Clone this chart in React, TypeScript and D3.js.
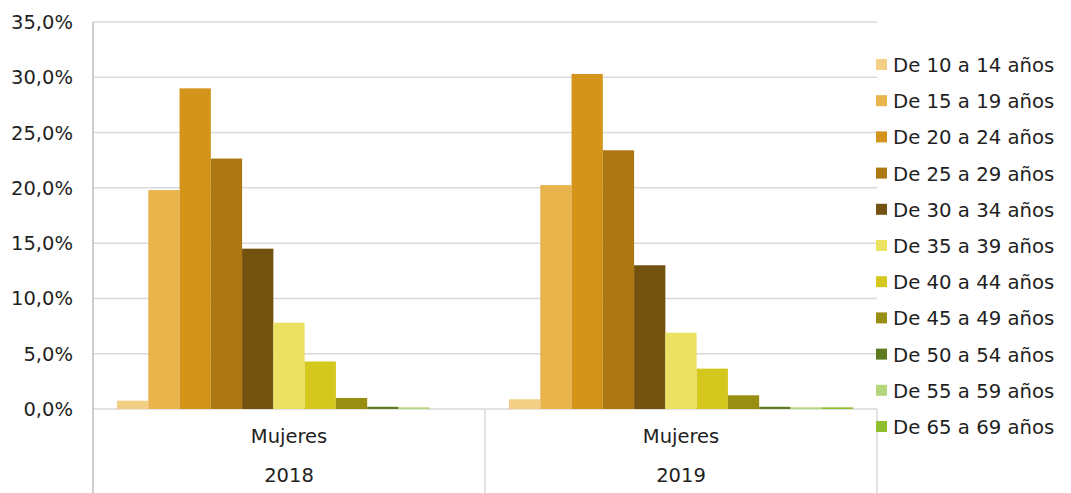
import { useEffect, useRef } from "react"
import * as d3 from "d3"

const groups = ["2018", "2019"]
const groupLabel = "Mujeres"

const ageBands = [
  "De 10 a 14 años",
  "De 15 a 19 años",
  "De 20 a 24 años",
  "De 25 a 29 años",
  "De 30 a 34 años",
  "De 35 a 39 años",
  "De 40 a 44 años",
  "De 45 a 49 años",
  "De 50 a 54 años",
  "De 55 a 59 años",
  "De 65 a 69 años",
]

// percentages, one per age band
const values2018 = [0.75, 19.8, 29.0, 22.65, 14.5, 7.8, 4.3, 1.0, 0.2, 0.15, 0]
const values2019 = [0.88, 20.25, 30.3, 23.4, 13.0, 6.9, 3.65, 1.24, 0.2, 0.15, 0.15]

const colors = [
  "#F2CF85",
  "#E9B44C",
  "#D4941A",
  "#AD7714",
  "#73520F",
  "#EAE260",
  "#D4C81E",
  "#988E14",
  "#5E7A1F",
  "#B5D67A",
  "#8FBF2E",
]

const yTicks = [0, 5, 10, 15, 20, 25, 30, 35]

export default function App() {
  const svgRef = useRef<SVGSVGElement>(null)

  useEffect(() => {
    document.body.style.margin = "0"
    if (!svgRef.current) return
    const svg = d3.select(svgRef.current)
    svg.selectAll("*").remove()

    const width = 1071
    const height = 493
    const margin = { top: 22, left: 93, right: 194, bottom: 84 }
    const innerWidth = width - margin.left - margin.right
    const innerHeight = height - margin.top - margin.bottom
    const font = "'DejaVu Sans', sans-serif"
    const textColor = "#1f1f1f"
    const grid = "#d9d9d9"

    const g = svg.append("g").attr("transform", `translate(${margin.left},${margin.top})`)

    const x0 = d3.scaleBand().domain(groups).range([0, innerWidth]).paddingInner(0).paddingOuter(0)
    const x1 = d3
      .scaleBand()
      .domain(ageBands)
      .range([24, x0.bandwidth() - 24])
      .padding(0)
    const y = d3.scaleLinear().domain([0, 35]).range([innerHeight, 0])

    // gridlines
    g.selectAll("line.grid")
      .data(yTicks)
      .join("line")
      .attr("class", "grid")
      .attr("x1", 0)
      .attr("x2", innerWidth)
      .attr("y1", (d) => y(d))
      .attr("y2", (d) => y(d))
      .attr("stroke", grid)
      .attr("stroke-width", 1.5)

    // y labels
    g.selectAll("text.ytick")
      .data(yTicks)
      .join("text")
      .attr("class", "ytick")
      .attr("x", -20)
      .attr("y", (d) => y(d))
      .attr("dy", "0.36em")
      .attr("text-anchor", "end")
      .attr("font-family", font)
      .attr("font-size", 19.5)
      .attr("fill", textColor)
      .text((d) => d.toFixed(1).replace(".", ",") + "%")

    // bars
    const series = [values2018, values2019]
    groups.forEach((grp, gi) => {
      g.append("g")
        .attr("transform", `translate(${x0(grp)},0)`)
        .selectAll("rect")
        .data(series[gi])
        .join("rect")
        .attr("x", (_, i) => x1(ageBands[i]) as number)
        .attr("width", x1.bandwidth())
        .attr("y", (d) => y(d))
        .attr("height", (d) => innerHeight - y(d))
        .attr("fill", (_, i) => colors[i])
    })

    // category axis lines
    const boundaries = [0, ...groups.map((grp) => (x0(grp) as number) + x0.bandwidth())]
    g.selectAll("line.sep")
      .data(boundaries)
      .join("line")
      .attr("class", "sep")
      .attr("x1", (d) => d)
      .attr("x2", (d) => d)
      .attr("y1", (d) => (d === 0 ? 0 : innerHeight))
      .attr("y2", height - margin.top)
      .attr("stroke", (d) => (d === 0 ? "#bfbfbf" : grid))
      .attr("stroke-width", 1.5)

    groups.forEach((grp) => {
      const cx = (x0(grp) as number) + x0.bandwidth() / 2
      g.append("text")
        .attr("x", cx)
        .attr("y", innerHeight + 34)
        .attr("text-anchor", "middle")
        .attr("font-family", font)
        .attr("font-size", 19.5)
        .attr("fill", textColor)
        .text(groupLabel)
      g.append("text")
        .attr("x", cx)
        .attr("y", innerHeight + 73)
        .attr("text-anchor", "middle")
        .attr("font-family", font)
        .attr("font-size", 19.5)
        .attr("fill", textColor)
        .text(grp)
    })

    // legend
    const legend = svg.append("g").attr("transform", `translate(876, 65)`)
    ageBands.forEach((band, i) => {
      const row = legend.append("g").attr("transform", `translate(0, ${i * 36.2})`)
      row.append("rect").attr("x", 0).attr("y", -6).attr("width", 11).attr("height", 11).attr("fill", colors[i])
      row
        .append("text")
        .attr("x", 17)
        .attr("y", 0)
        .attr("dy", "0.36em")
        .attr("font-family", font)
        .attr("font-size", 19.7)
        .attr("fill", textColor)
        .text(band)
    })
  }, [])

  return <svg ref={svgRef} width={1071} height={493} style={{ display: "block" }} />
}
